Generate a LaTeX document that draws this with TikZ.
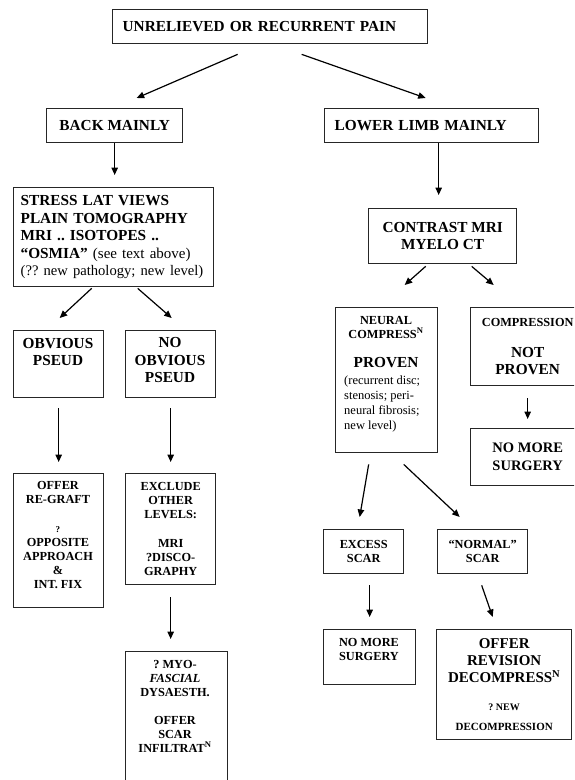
\documentclass[tikz,border=0pt]{standalone}
\usepackage{fontspec}
\setmainfont{Liberation Serif}
\usetikzlibrary{arrows.meta}
\frenchspacing

\begin{document}
\begin{tikzpicture}[x=1pt,y=-1pt,
  box/.style={draw=black!85,line width=1.35pt,inner sep=0pt,anchor=north west},
  arr/.style={-{Triangle[length=7.5pt,width=6.5pt]},line width=1.2pt},
  hd/.style={font=\bfseries\fontsize{15.3}{17.5}\selectfont,align=center},
  md/.style={font=\bfseries\fontsize{12.3}{14}\selectfont,align=center},
  sm/.style={font=\fontsize{12.5}{15}\selectfont,align=left}]

% Frame
\useasboundingbox (0,0) rectangle (574,780);
\clip (0,0) rectangle (574,780);

% Top level
\node[box,hd,align=left,text width=295pt,inner xsep=10pt,minimum height=34pt] (pain) at (112,9) {UNRELIEVED OR RECURRENT PAIN};
\node[box,hd,minimum width=136pt,minimum height=34pt] (back) at (46,108) {BACK MAINLY};
\node[box,hd,align=left,text width=194pt,inner xsep=10pt,minimum height=34pt] (limb) at (324,108) {LOWER LIMB MAINLY};

% Back branch
\node[box,hd,align=left,text width=186pt,inner xsep=7pt,minimum height=99pt] (stress) at (13,187) {STRESS LAT VIEWS\\PLAIN TOMOGRAPHY\\MRI .. ISOTOPES ..\\“OSMIA” {\mdseries\fontsize{15}{17.5}\selectfont (see text above)}\\{\mdseries\fontsize{14.6}{17.5}\selectfont (?? new pathology; new level)}};
\node[box,minimum width=90pt,minimum height=67pt] (obv) at (13,330) {};
\node[hd] (obvT) at (58,352) {OBVIOUS\\PSEUD};
\node[box,minimum width=90pt,minimum height=67pt] (noobv) at (125,330) {};
\node[hd] (noobvT) at (170,360.5) {NO\\OBVIOUS\\PSEUD};
\node[box,minimum width=90pt,minimum height=134pt] (regraft) at (13,473) {};
\node[md] (regraftT) at (58,535) {OFFER\\RE-GRAFT\\[15pt]{\fontsize{9}{10}\selectfont ?}\\OPPOSITE\\APPROACH\\\&\\INT. FIX};
\node[box,md,minimum width=90pt,minimum height=111pt] (excl) at (125,473) {EXCLUDE\\OTHER\\LEVELS:\\[15pt]MRI\\?DISCO-\\GRAPHY};
\node[box,minimum width=102pt,minimum height=150pt] (myo) at (125,651) {};
\node[md] (myoT) at (175,706) {? MYO-\\\textit{FASCIAL}\\DYSAESTH.\\[14pt]OFFER\\SCAR\\INFILTRAT\textsuperscript{N}};

% Lower limb branch
\node[box,hd,minimum width=148pt,minimum height=55pt] (contrast) at (368,208) {CONTRAST MRI\\MYELO CT};
\node[box,minimum width=102pt,minimum height=145pt] (neural) at (335,307) {};
\node[md,anchor=north,inner sep=0pt] (neuralT) at (386,316) {NEURAL\\COMPRESS\textsuperscript{N}\\[15pt]{\fontsize{15.3}{17.5}\selectfont PROVEN}};
\node[sm,anchor=north west,inner sep=0pt] (neuralD) at (344,375.5) {(recurrent disc;\\stenosis; peri-\\neural fibrosis;\\new level)};
\node[box,hd,minimum width=114pt,minimum height=78pt] (notprov) at (470,307) {{\fontsize{12.3}{14}\selectfont COMPRESSION}\\[13.5pt]NOT\\PROVEN};
\node[box,font=\bfseries\fontsize{14.5}{18}\selectfont,align=center,minimum width=114pt,minimum height=57pt] (nomoreA) at (470,428) {NO MORE\\SURGERY};
\node[box,md,minimum width=80pt,minimum height=44pt] (excess) at (323,529) {EXCESS\\SCAR};
\node[box,md,minimum width=90pt,minimum height=44pt] (normal) at (437,529) {“NORMAL”\\SCAR};
\node[box,minimum width=92pt,minimum height=55pt] (nomoreB) at (323,629) {};
\node[md] (nomoreBT) at (369,649) {NO MORE\\SURGERY};
\node[box,font=\bfseries\fontsize{15}{17}\selectfont,align=center,minimum width=135pt,minimum height=110pt] (revision) at (436,629) {OFFER\\REVISION\\DECOMPRESS\textsuperscript{N}\\[10.5pt]{\fontsize{10}{12}\selectfont ? NEW}\\[3.5pt]{\fontsize{11}{13}\selectfont DECOMPRESSION}};

% Arrows
\draw[arr] ([xshift=-32.5pt,yshift=-10pt]pain.south) -- ([xshift=22pt,yshift=10pt]back.north);
\draw[arr] ([xshift=31.5pt,yshift=-10pt]pain.south) -- ([xshift=-6pt,yshift=10pt]limb.north);
\draw[arr] (back.south) -- ([xshift=1pt,yshift=12pt]stress.north);
\draw[arr] ([xshift=7pt]limb.south) -- ([xshift=-4pt,yshift=13pt]contrast.north);
\draw[arr] ([xshift=-22pt,yshift=-1pt]stress.south) -- ([xshift=1pt,yshift=12pt]obv.north);
\draw[arr] ([xshift=24pt,yshift=-1pt]stress.south) -- ([xshift=1pt,yshift=12pt]noobv.north);
\draw[arr] ([yshift=-10pt]obv.south) -- ([yshift=11pt]regraft.north);
\draw[arr] ([yshift=-10pt]noobv.south) -- ([yshift=11pt]excl.north);
\draw[arr] ([yshift=-12pt]excl.south) -- ([xshift=-6pt,yshift=12pt]myo.north);
\draw[arr] ([xshift=-17pt,yshift=-2pt]contrast.south) -- ([xshift=18pt,yshift=22pt]neural.north);
\draw[arr] ([xshift=29pt,yshift=-2pt]contrast.south) -- ([xshift=-34pt,yshift=22pt]notprov.north);
\draw[arr] ([yshift=-12pt]notprov.south) -- ([yshift=9pt]nomoreA.north);
\draw[arr] ([xshift=-18pt,yshift=-11pt]neural.south) -- ([xshift=-4pt,yshift=12pt]excess.north);
\draw[arr] ([xshift=17pt,yshift=-11pt]neural.south) -- ([xshift=-23pt,yshift=12pt]normal.north);
\draw[arr] ([xshift=6pt,yshift=-11pt]excess.south) -- ([yshift=12pt]nomoreB.north);
\draw[arr] ([xshift=-1pt,yshift=-11pt]normal.south) -- ([xshift=-11.5pt,yshift=12pt]revision.north);
\end{tikzpicture}
\end{document}
